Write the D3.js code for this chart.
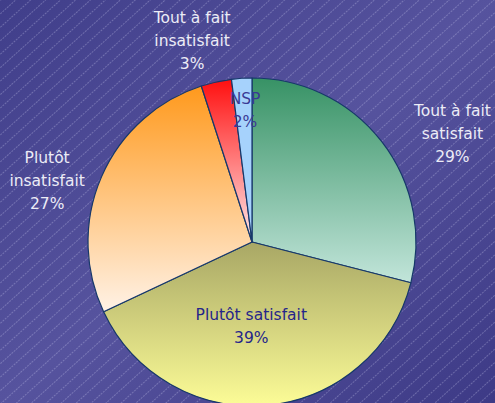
<!DOCTYPE html>
<html>
<head>
<meta charset="utf-8">
<script src="https://cdn.jsdelivr.net/npm/d3@7/dist/d3.min.js"></script>
<style>
html,body{margin:0;padding:0;background:#48458f;}
svg{display:block;}
</style>
</head>
<body>
<script>
// ---- data ----
const categories = ["Tout à fait satisfait", "Plutôt satisfait", "Plutôt insatisfait", "Tout à fait insatisfait", "NSP"];
const values = [29, 39, 27, 3, 2];
const labelLines = [
  ["Tout à fait", "satisfait", "29%"],
  ["Plutôt satisfait", "39%"],
  ["Plutôt", "insatisfait", "27%"],
  ["Tout à fait", "insatisfait", "3%"],
  ["NSP", "2%"]
];

// ---- styles / layout ----
const W = 495, H = 403;
const cx = 252, cy = 242, R = 164;
const gradTop = ["#379265", "#a8a765", "#ff991c", "#ff0f0f", "#a6d2fc"];
const gradBot = ["#c2e5da", "#fcfc97", "#fff2e6", "#ffeaea", "#a6d2fc"];
const labelColor = ["#ececf6", "#25258a", "#ececf6", "#ececf6", "#3a3a96"];
// label placement in polar terms: angle (deg, clockwise from top) and distance from centre
const labelAngle = [61.5, 180.5, 286.8, 343.5, 357];
const labelDist = [228, 84, 214, 211, 133];
const lineH = 23;

const svg = d3.select("body").append("svg").attr("width", W).attr("height", H);
const defs = svg.append("defs");

const bg = defs.append("linearGradient").attr("id", "bg")
  .attr("x1", 0).attr("y1", 0).attr("x2", 1).attr("y2", 1);
bg.append("stop").attr("offset", "0%").attr("stop-color", "#403e8a");
bg.append("stop").attr("offset", "50%").attr("stop-color", "#56539e");
bg.append("stop").attr("offset", "100%").attr("stop-color", "#3d3a86");

const pat = defs.append("pattern").attr("id", "stripes")
  .attr("patternUnits", "userSpaceOnUse").attr("width", 12).attr("height", 10)
  .attr("patternTransform", "rotate(-42)");
pat.append("line").attr("x1", 0).attr("y1", 0.5).attr("x2", 12).attr("y2", 0.5)
  .attr("stroke", "rgba(215,215,245,0.42)").attr("stroke-width", 0.7)
  .attr("stroke-dasharray", "2,1");

svg.append("rect").attr("width", W).attr("height", H).attr("fill", "url(#bg)");
svg.append("rect").attr("width", W).attr("height", H).attr("fill", "url(#stripes)");

categories.forEach((c, i) => {
  const g = defs.append("linearGradient").attr("id", "g" + i)
    .attr("x1", 0).attr("y1", 0).attr("x2", 0).attr("y2", 1);
  g.append("stop").attr("offset", "0%").attr("stop-color", gradTop[i]);
  g.append("stop").attr("offset", "100%").attr("stop-color", gradBot[i]);
});

const pie = d3.pie().sort(null).value(d => d)(values);
const arc = d3.arc().innerRadius(0).outerRadius(R);

const gp = svg.append("g").attr("transform", `translate(${cx},${cy})`);
gp.selectAll("path").data(pie).join("path")
  .attr("d", arc)
  .attr("fill", (d, i) => `url(#g${i})`)
  .attr("stroke", "#17386a")
  .attr("stroke-width", 1.2)
  .attr("stroke-linejoin", "round");

gp.selectAll("text.lbl").data(pie).join("text")
  .attr("class", "lbl")
  .attr("text-anchor", "middle")
  .attr("font-family", "'DejaVu Sans', Verdana, sans-serif")
  .attr("font-size", 15.5)
  .attr("fill", (d, i) => labelColor[i])
  .each(function (d, i) {
    const a = labelAngle[i] * Math.PI / 180;
    const x = Math.sin(a) * labelDist[i];
    const y = -Math.cos(a) * labelDist[i];
    const lines = labelLines[i];
    const y0 = y - (lines.length - 1) * lineH / 2 + 6;
    d3.select(this).selectAll("tspan").data(lines).join("tspan")
      .attr("x", x).attr("y", (t, k) => y0 + k * lineH)
      .text(t => t);
  });
</script>
</body>
</html>
